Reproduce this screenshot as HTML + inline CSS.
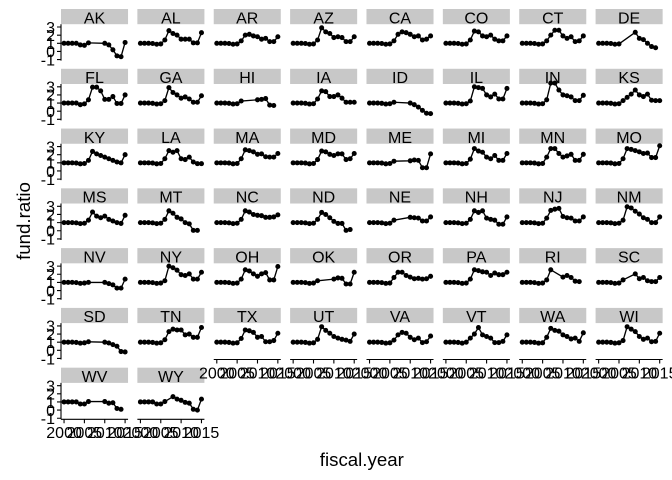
<!DOCTYPE html>
<html><head><meta charset="utf-8"><style>
html,body{margin:0;padding:0;background:#fff}
svg{display:block}
text{font-family:"Liberation Sans",Arial,sans-serif;fill:#000}
.s{fill:#C8C8C8}
.st{font-size:16px;text-anchor:middle}
.l{fill:none;stroke:#000;stroke-width:.33;stroke-linejoin:round;marker-start:url(#m);marker-mid:url(#m);marker-end:url(#m)}
.ax{stroke:#000;stroke-width:1.1;fill:none}
.yl{font-size:16px;text-anchor:end}
.xl{font-size:16px;text-anchor:middle}
.ti{font-size:18.67px;text-anchor:middle}
</style></head><body>
<svg width="672" height="480" viewBox="0 0 672 480" xmlns="http://www.w3.org/2000/svg">
<defs><marker id="m" markerUnits="userSpaceOnUse" markerWidth="2" markerHeight="2" refX="1" refY="1" viewBox="0 0 2 2" overflow="visible"><circle cx="1" cy="1" r=".62" fill="#000"/></marker></defs>
<rect width="672" height="480" fill="#fff"/>

<!-- Row 0 -->
<g transform="translate(61,9)"><rect class="s" width="67.04" height="15.2"/><text class="st" x="33.52" y="14.3">AK</text><path class="l" transform="translate(3.05 42.42) scale(4.07)" d="M0 -2 1 -2 2 -2 3 -2 4 -1.6 5 -1.5 6 -2.1 10 -2 11 -1.6 12 -.4 13 1.1 14 1.3 15 -2.2"/></g>
<g transform="translate(137.37,9)"><rect class="s" width="67.04" height="15.2"/><text class="st" x="33.52" y="14.3">AL</text><path class="l" transform="translate(3.05 42.42) scale(4.07)" d="M0 -2 1 -2 2 -2 3 -1.94 4 -1.76 5 -1.84 6 -2.8 7 -5.1 8 -4.4 9 -4 10 -3 11 -3 12 -3 13 -2.1 14 -2.1 15 -4.6"/></g>
<g transform="translate(213.74,9)"><rect class="s" width="67.04" height="15.2"/><text class="st" x="33.52" y="14.3">AR</text><path class="l" transform="translate(3.05 42.42) scale(4.07)" d="M0 -2 1 -2 2 -2 3 -1.94 4 -1.76 5 -1.84 6 -2.6 7 -4 8 -4.2 9 -3.8 10 -3.6 11 -3 12 -3.2 13 -2.4 14 -2.4 15 -3.6"/></g>
<g transform="translate(290.11,9)"><rect class="s" width="67.04" height="15.2"/><text class="st" x="33.52" y="14.3">AZ</text><path class="l" transform="translate(3.05 42.42) scale(4.07)" d="M0 -2 1 -2 2 -2 3 -1.94 4 -1.76 5 -1.84 6 -2.8 7 -5.8 8 -4.8 9 -4.4 10 -3.4 11 -3.6 12 -3.4 13 -2.4 14 -2.4 15 -3.6"/></g>
<g transform="translate(366.48,9)"><rect class="s" width="67.04" height="15.2"/><text class="st" x="33.52" y="14.3">CA</text><path class="l" transform="translate(3.05 42.42) scale(4.07)" d="M0 -2 1 -2 2 -2 3 -1.94 4 -1.76 5 -1.84 6 -2.6 7 -4.2 8 -4.8 9 -4.6 10 -4.2 11 -3.6 12 -3.8 13 -2.8 14 -3 15 -3.8"/></g>
<g transform="translate(442.85,9)"><rect class="s" width="67.04" height="15.2"/><text class="st" x="33.52" y="14.3">CO</text><path class="l" transform="translate(3.05 42.42) scale(4.07)" d="M0 -2 1 -2 2 -2 3 -1.94 4 -1.76 5 -1.84 6 -2.8 7 -5 8 -4.8 9 -3.8 10 -3.6 11 -4 12 -3 13 -2.6 14 -2.6 15 -3.8"/></g>
<g transform="translate(519.22,9)"><rect class="s" width="67.04" height="15.2"/><text class="st" x="33.52" y="14.3">CT</text><path class="l" transform="translate(3.05 42.42) scale(4.07)" d="M0 -2 1 -2 2 -2 3 -1.94 4 -1.76 5 -1.84 6 -2.6 7 -4 8 -5.2 9 -5.2 10 -3.8 11 -3.2 12 -3.6 13 -2.4 14 -2.6 15 -3.8"/></g>
<g transform="translate(595.59,9)"><rect class="s" width="67.04" height="15.2"/><text class="st" x="33.52" y="14.3">DE</text><path class="l" transform="translate(3.05 42.42) scale(4.07)" d="M0 -2 1 -2 2 -2 3 -1.94 4 -1.76 5 -1.84 9 -4.7 10 -3.2 11 -2.9 12 -2 13 -1.2 14 -.9"/></g>

<!-- Row 1 -->
<g transform="translate(61,68.78)"><rect class="s" width="67.04" height="15.2"/><text class="st" x="33.52" y="14.3">FL</text><path class="l" transform="translate(3.05 42.42) scale(4.07)" d="M0 -2 1 -2 2 -2 3 -2 4 -1.6 5 -1.8 6 -2.8 7 -5.9 8 -5.9 9 -5 10 -2.9 11 -2.9 12 -3.6 13 -1.9 14 -1.9 15 -4"/></g>
<g transform="translate(137.37,68.78)"><rect class="s" width="67.04" height="15.2"/><text class="st" x="33.52" y="14.3">GA</text><path class="l" transform="translate(3.05 42.42) scale(4.07)" d="M0 -2 1 -2 2 -2 3 -1.94 4 -1.76 5 -1.84 6 -2.6 7 -5.8 8 -4.6 9 -4 10 -3.2 11 -3.5 12 -3 13 -2.2 14 -2.2 15 -3.8"/></g>
<g transform="translate(213.74,68.78)"><rect class="s" width="67.04" height="15.2"/><text class="st" x="33.52" y="14.3">HI</text><path class="l" transform="translate(3.05 42.42) scale(4.07)" d="M0 -2 1 -2 2 -2 3 -1.94 4 -1.76 5 -1.84 6 -2.5 10 -2.8 11 -2.9 12 -3.1 13 -1.5 14 -1.4"/></g>
<g transform="translate(290.11,68.78)"><rect class="s" width="67.04" height="15.2"/><text class="st" x="33.52" y="14.3">IA</text><path class="l" transform="translate(3.05 42.42) scale(4.07)" d="M0 -2 1 -2 2 -2 3 -1.94 4 -1.76 5 -1.84 6 -3 7 -5 8 -4.8 9 -3.6 10 -3.6 11 -4 12 -3.2 13 -2.2 14 -2.2 15 -2.2"/></g>
<g transform="translate(366.48,68.78)"><rect class="s" width="67.04" height="15.2"/><text class="st" x="33.52" y="14.3">ID</text><path class="l" transform="translate(3.05 42.42) scale(4.07)" d="M0 -2 1 -2 2 -2 3 -1.94 4 -1.76 5 -1.84 6 -2.2 10 -2 11 -1.6 12 -1 13 -.2 14 .5 15 .6"/></g>
<g transform="translate(442.85,68.78)"><rect class="s" width="67.04" height="15.2"/><text class="st" x="33.52" y="14.3">IL</text><path class="l" transform="translate(3.05 42.42) scale(4.07)" d="M0 -2 1 -2 2 -2 3 -1.94 4 -1.76 5 -1.84 6 -2.5 7 -6 8 -5.8 9 -5.6 10 -4 11 -3.5 12 -4.2 13 -3 14 -3 15 -5.6"/></g>
<g transform="translate(519.22,68.78)"><rect class="s" width="67.04" height="15.2"/><text class="st" x="33.52" y="14.3">IN</text><path class="l" transform="translate(3.05 42.42) scale(4.07)" d="M0 -2 1 -2 2 -2 3 -1.94 4 -1.76 5 -1.84 6 -2.8 7 -6.9 8 -6.9 9 -5.2 10 -4 11 -3.8 12 -3.5 13 -2.6 14 -2.6 15 -3.9"/></g>
<g transform="translate(595.59,68.78)"><rect class="s" width="67.04" height="15.2"/><text class="st" x="33.52" y="14.3">KS</text><path class="l" transform="translate(3.05 42.42) scale(4.07)" d="M0 -2 1 -2 2 -2 3 -1.94 4 -1.76 5 -1.84 6 -2.6 7 -3.4 8 -4.2 9 -5.2 10 -4 11 -3.6 12 -4.2 13 -2.7 14 -2.6 15 -2.6"/></g>

<!-- Row 2 -->
<g transform="translate(61,128.56)"><rect class="s" width="67.04" height="15.2"/><text class="st" x="33.52" y="14.3">KY</text><path class="l" transform="translate(3.05 42.42) scale(4.07)" d="M0 -2 1 -2 2 -2 3 -1.94 4 -1.76 5 -1.84 6 -2.6 7 -4.8 8 -4.2 9 -3.8 10 -3.4 11 -3 12 -2.6 13 -2.2 14 -2 15 -4"/></g>
<g transform="translate(137.37,128.56)"><rect class="s" width="67.04" height="15.2"/><text class="st" x="33.52" y="14.3">LA</text><path class="l" transform="translate(3.05 42.42) scale(4.07)" d="M0 -2 1 -2 2 -2 3 -1.94 4 -1.76 5 -1.84 6 -3 7 -5 8 -4.6 9 -5 10 -3 11 -2.8 12 -3.4 13 -2.2 14 -1.8 15 -1.8"/></g>
<g transform="translate(213.74,128.56)"><rect class="s" width="67.04" height="15.2"/><text class="st" x="33.52" y="14.3">MA</text><path class="l" transform="translate(3.05 42.42) scale(4.07)" d="M0 -2 1 -2 2 -2 3 -1.94 4 -1.76 5 -1.84 6 -3 7 -5.2 8 -5 9 -4.7 10 -4.1 11 -4.2 12 -3.5 13 -3.4 14 -3.4 15 -4.3"/></g>
<g transform="translate(290.11,128.56)"><rect class="s" width="67.04" height="15.2"/><text class="st" x="33.52" y="14.3">MD</text><path class="l" transform="translate(3.05 42.42) scale(4.07)" d="M0 -2 1 -2 2 -2 3 -1.94 4 -1.76 5 -1.84 6 -2.8 7 -4.9 8 -4.7 9 -4.1 10 -3.8 11 -4.2 12 -4.2 13 -2.8 14 -3 15 -4.3"/></g>
<g transform="translate(366.48,128.56)"><rect class="s" width="67.04" height="15.2"/><text class="st" x="33.52" y="14.3">ME</text><path class="l" transform="translate(3.05 42.42) scale(4.07)" d="M0 -2 1 -2 2 -2 3 -1.94 4 -1.76 5 -1.84 6 -2.4 10 -2.5 11 -2.7 12 -2.6 13 -.8 14 -.8 15 -4.2"/></g>
<g transform="translate(442.85,128.56)"><rect class="s" width="67.04" height="15.2"/><text class="st" x="33.52" y="14.3">MI</text><path class="l" transform="translate(3.05 42.42) scale(4.07)" d="M0 -2 1 -2 2 -2 3 -1.94 4 -1.76 5 -1.84 6 -2.9 7 -5.5 8 -4.9 9 -4.6 10 -3.4 11 -3 12 -3.8 13 -2.6 14 -2.6 15 -4.3"/></g>
<g transform="translate(519.22,128.56)"><rect class="s" width="67.04" height="15.2"/><text class="st" x="33.52" y="14.3">MN</text><path class="l" transform="translate(3.05 42.42) scale(4.07)" d="M0 -2 1 -2 2 -2 3 -1.94 4 -1.76 5 -1.84 6 -3.4 7 -5.5 8 -5.5 9 -4.3 10 -3.4 11 -3.7 12 -4.1 13 -2.6 14 -2.6 15 -4.1"/></g>
<g transform="translate(595.59,128.56)"><rect class="s" width="67.04" height="15.2"/><text class="st" x="33.52" y="14.3">MO</text><path class="l" transform="translate(3.05 42.42) scale(4.07)" d="M0 -2 1 -2 2 -2 3 -1.94 4 -1.76 5 -1.84 6 -3 7 -5.5 8 -5.3 9 -5 10 -4.7 11 -4.3 12 -4.4 13 -3.3 14 -3.3 15 -6.2"/></g>

<!-- Row 3 -->
<g transform="translate(61,188.34)"><rect class="s" width="67.04" height="15.2"/><text class="st" x="33.52" y="14.3">MS</text><path class="l" transform="translate(3.05 42.42) scale(4.07)" d="M0 -2 1 -2 2 -2 3 -1.94 4 -1.76 5 -1.84 6 -2.6 7 -4.6 8 -3.6 9 -3.2 10 -3.6 11 -2.8 12 -2.4 13 -2 14 -1.8 15 -3.8"/></g>
<g transform="translate(137.37,188.34)"><rect class="s" width="67.04" height="15.2"/><text class="st" x="33.52" y="14.3">MT</text><path class="l" transform="translate(3.05 42.42) scale(4.07)" d="M0 -2 1 -2 2 -2 3 -1.94 4 -1.76 5 -1.84 6 -2.8 7 -4.9 8 -4.3 9 -3.3 10 -2.9 11 -2 12 -1.7 13 -.1 14 -.1"/></g>
<g transform="translate(213.74,188.34)"><rect class="s" width="67.04" height="15.2"/><text class="st" x="33.52" y="14.3">NC</text><path class="l" transform="translate(3.05 42.42) scale(4.07)" d="M0 -2 1 -2 2 -2 3 -1.94 4 -1.76 5 -1.84 6 -2.8 7 -4.9 8 -4.6 9 -4 10 -3.8 11 -3.7 12 -3.3 13 -3.3 14 -3.4 15 -3.9"/></g>
<g transform="translate(290.11,188.34)"><rect class="s" width="67.04" height="15.2"/><text class="st" x="33.52" y="14.3">ND</text><path class="l" transform="translate(3.05 42.42) scale(4.07)" d="M0 -2 1 -2 2 -2 3 -1.94 4 -1.76 5 -1.84 6 -2.8 7 -4.5 8 -4 9 -3.2 10 -2.3 11 -1.8 12 -1.8 13 -.1 14 -.3"/></g>
<g transform="translate(366.48,188.34)"><rect class="s" width="67.04" height="15.2"/><text class="st" x="33.52" y="14.3">NE</text><path class="l" transform="translate(3.05 42.42) scale(4.07)" d="M0 -2 1 -2 2 -2 3 -1.94 4 -1.76 5 -1.84 6 -2.6 10 -3.3 11 -3.2 12 -3.1 13 -2.4 14 -2.4 15 -3.4"/></g>
<g transform="translate(442.85,188.34)"><rect class="s" width="67.04" height="15.2"/><text class="st" x="33.52" y="14.3">NH</text><path class="l" transform="translate(3.05 42.42) scale(4.07)" d="M0 -2 1 -2 2 -2 3 -1.94 4 -1.76 5 -1.84 6 -2.8 7 -4.9 8 -4.5 9 -4.9 10 -3.1 11 -2.8 12 -2.6 13 -1.6 14 -1.6 15 -3.4"/></g>
<g transform="translate(519.22,188.34)"><rect class="s" width="67.04" height="15.2"/><text class="st" x="33.52" y="14.3">NJ</text><path class="l" transform="translate(3.05 42.42) scale(4.07)" d="M0 -2 1 -2 2 -2 3 -1.94 4 -1.76 5 -1.84 6 -3.1 7 -5 8 -5.3 9 -5.5 10 -3.5 11 -3.2 12 -3.1 13 -2.4 14 -2.4 15 -3.4"/></g>
<g transform="translate(595.59,188.34)"><rect class="s" width="67.04" height="15.2"/><text class="st" x="33.52" y="14.3">NM</text><path class="l" transform="translate(3.05 42.42) scale(4.07)" d="M0 -2 1 -2 2 -2 3 -1.94 4 -1.76 5 -1.84 6 -2.6 7 -5.9 8 -5.6 9 -4.8 10 -4.1 11 -3.2 12 -2.8 13 -2 14 -2 15 -3.4"/></g>

<!-- Row 4 -->
<g transform="translate(61,248.12)"><rect class="s" width="67.04" height="15.2"/><text class="st" x="33.52" y="14.3">NV</text><path class="l" transform="translate(3.05 42.42) scale(4.07)" d="M0 -2 1 -2 2 -2 3 -1.94 4 -1.76 5 -1.84 6 -2 10 -2 11 -1.7 12 -1.4 13 -.6 14 -.6 15 -2.8"/></g>
<g transform="translate(137.37,248.12)"><rect class="s" width="67.04" height="15.2"/><text class="st" x="33.52" y="14.3">NY</text><path class="l" transform="translate(3.05 42.42) scale(4.07)" d="M0 -2 1 -2 2 -2 3 -1.94 4 -1.76 5 -1.84 6 -2.4 7 -6 8 -5.6 9 -5 10 -3.9 11 -3.7 12 -4.1 13 -2.8 14 -2.8 15 -4.5"/></g>
<g transform="translate(213.74,248.12)"><rect class="s" width="67.04" height="15.2"/><text class="st" x="33.52" y="14.3">OH</text><path class="l" transform="translate(3.05 42.42) scale(4.07)" d="M0 -2 1 -2 2 -2 3 -1.94 4 -1.76 5 -1.84 6 -2.8 7 -5.1 8 -4.8 9 -4.1 10 -3.5 11 -4.1 12 -4.4 13 -2.6 14 -2.6 15 -5.9"/></g>
<g transform="translate(290.11,248.12)"><rect class="s" width="67.04" height="15.2"/><text class="st" x="33.52" y="14.3">OK</text><path class="l" transform="translate(3.05 42.42) scale(4.07)" d="M0 -2 1 -2 2 -2 3 -1.94 4 -1.76 5 -1.84 6 -2.4 10 -2.8 11 -3.1 12 -3 13 -1.6 14 -1.6 15 -4.5"/></g>
<g transform="translate(366.48,248.12)"><rect class="s" width="67.04" height="15.2"/><text class="st" x="33.52" y="14.3">OR</text><path class="l" transform="translate(3.05 42.42) scale(4.07)" d="M0 -2 1 -2 2 -2 3 -1.94 4 -1.76 5 -1.84 6 -3.2 7 -4.5 8 -4.5 9 -3.7 10 -3.3 11 -2.9 12 -3 13 -2.8 14 -2.9 15 -3.5"/></g>
<g transform="translate(442.85,248.12)"><rect class="s" width="67.04" height="15.2"/><text class="st" x="33.52" y="14.3">PA</text><path class="l" transform="translate(3.05 42.42) scale(4.07)" d="M0 -2 1 -2 2 -2 3 -1.94 4 -1.76 5 -1.84 6 -2.8 7 -5.1 8 -4.9 9 -4.6 10 -4.5 11 -3.7 12 -4.3 13 -3.9 14 -3.9 15 -4.5"/></g>
<g transform="translate(519.22,248.12)"><rect class="s" width="67.04" height="15.2"/><text class="st" x="33.52" y="14.3">RI</text><path class="l" transform="translate(3.05 42.42) scale(4.07)" d="M0 -2 1 -2 2 -2 3 -1.94 4 -1.76 5 -1.84 6 -2.6 7 -5.1 10 -3.3 11 -3.7 12 -3.2 13 -2.3 14 -2.2"/></g>
<g transform="translate(595.59,248.12)"><rect class="s" width="67.04" height="15.2"/><text class="st" x="33.52" y="14.3">SC</text><path class="l" transform="translate(3.05 42.42) scale(4.07)" d="M0 -2 1 -2 2 -2 3 -1.94 4 -1.76 5 -1.84 6 -2.6 9 -4.1 10 -2.9 11 -3.2 12 -2.4 13 -2.2 14 -2.2 15 -3.2"/></g>

<!-- Row 5 -->
<g transform="translate(61,307.9)"><rect class="s" width="67.04" height="15.2"/><text class="st" x="33.52" y="14.3">SD</text><path class="l" transform="translate(3.05 42.42) scale(4.07)" d="M0 -2 1 -2 2 -2 3 -1.94 4 -1.76 5 -1.84 6 -2.1 10 -2 11 -1.8 12 -1.4 13 -1 14 .3 15 .4"/></g>
<g transform="translate(137.37,307.9)"><rect class="s" width="67.04" height="15.2"/><text class="st" x="33.52" y="14.3">TN</text><path class="l" transform="translate(3.05 42.42) scale(4.07)" d="M0 -2 1 -2 2 -2 3 -1.94 4 -1.76 5 -1.84 6 -2.6 7 -4.6 8 -5.2 9 -5 10 -5 11 -3.8 12 -4 13 -3.2 14 -3.2 15 -5.6"/></g>
<g transform="translate(213.74,307.9)"><rect class="s" width="67.04" height="15.2"/><text class="st" x="33.52" y="14.3">TX</text><path class="l" transform="translate(3.05 42.42) scale(4.07)" d="M0 -2 1 -2 2 -2 3 -1.94 4 -1.76 5 -1.84 6 -2.9 7 -5 8 -4.8 9 -4.4 10 -3.2 11 -3.4 12 -2.1 13 -2.1 14 -2.4 15 -4.2"/></g>
<g transform="translate(290.11,307.9)"><rect class="s" width="67.04" height="15.2"/><text class="st" x="33.52" y="14.3">UT</text><path class="l" transform="translate(3.05 42.42) scale(4.07)" d="M0 -2 1 -2 2 -2 3 -1.94 4 -1.76 5 -1.84 6 -2.7 7 -5.8 8 -4.9 9 -4.2 10 -3.4 11 -3 12 -2.7 13 -2.5 14 -2.2 15 -4"/></g>
<g transform="translate(366.48,307.9)"><rect class="s" width="67.04" height="15.2"/><text class="st" x="33.52" y="14.3">VA</text><path class="l" transform="translate(3.05 42.42) scale(4.07)" d="M0 -2 1 -2 2 -2 3 -1.94 4 -1.76 5 -1.84 6 -2.5 7 -3.8 8 -4.4 9 -4.2 10 -3.2 11 -2.6 12 -3 13 -1.9 14 -2.1 15 -3.5"/></g>
<g transform="translate(442.85,307.9)"><rect class="s" width="67.04" height="15.2"/><text class="st" x="33.52" y="14.3">VT</text><path class="l" transform="translate(3.05 42.42) scale(4.07)" d="M0 -2 1 -2 2 -2 3 -1.94 4 -1.76 5 -2 6 -3 7 -4 8 -5.6 9 -3.8 10 -3.4 11 -3 12 -1.9 13 -1.9 14 -2.2 15 -3.8"/></g>
<g transform="translate(519.22,307.9)"><rect class="s" width="67.04" height="15.2"/><text class="st" x="33.52" y="14.3">WA</text><path class="l" transform="translate(3.05 42.42) scale(4.07)" d="M0 -2 1 -2 2 -2 3 -1.94 4 -1.76 5 -1.84 6 -3.2 7 -5.4 8 -4.9 9 -4.7 10 -3.8 11 -3.4 12 -2.8 13 -3 14 -2.2 15 -4.3"/></g>
<g transform="translate(595.59,307.9)"><rect class="s" width="67.04" height="15.2"/><text class="st" x="33.52" y="14.3">WI</text><path class="l" transform="translate(3.05 42.42) scale(4.07)" d="M0 -2 1 -2 2 -2 3 -1.94 4 -1.76 5 -1.84 6 -2.4 7 -5.8 8 -5.2 9 -4.6 10 -3.4 11 -2.7 12 -3 13 -2.1 14 -2.2 15 -4.2"/></g>

<!-- Row 6 -->
<g transform="translate(61,367.68)"><rect class="s" width="67.04" height="15.2"/><text class="st" x="33.52" y="14.3">WV</text><path class="l" transform="translate(3.05 42.42) scale(4.07)" d="M0 -2 1 -2 2 -2 3 -2 4 -1.5 5 -1.5 6 -2.1 10 -2.1 11 -1.7 12 -1.8 13 -.4 14 -.2"/></g>
<g transform="translate(137.37,367.68)"><rect class="s" width="67.04" height="15.2"/><text class="st" x="33.52" y="14.3">WY</text><path class="l" transform="translate(3.05 42.42) scale(4.07)" d="M0 -2 1 -2 2 -2 3 -2 4 -1.5 5 -1.5 6 -2.1 8 -3.3 9 -2.7 10 -2.4 11 -1.9 12 -1.7 13 -.2 14 0 15 -2.7"/></g>

<!-- Y axes -->
<g transform="translate(61,9)"><path class="ax" d="M0 15.2V51.6M-4 18H0M-4 26.14H0M-4 34.28H0M-4 42.42H0M-4 50.56H0"/><text class="yl" x="-6" y="23.8">3</text><text class="yl" x="-6" y="31.94">2</text><text class="yl" x="-6" y="40.08">1</text><text class="yl" x="-6" y="48.22">0</text><text class="yl" x="-6" y="56.36">-1</text></g>
<g transform="translate(61,68.78)"><path class="ax" d="M0 15.2V51.6M-4 18H0M-4 26.14H0M-4 34.28H0M-4 42.42H0M-4 50.56H0"/><text class="yl" x="-6" y="23.8">3</text><text class="yl" x="-6" y="31.94">2</text><text class="yl" x="-6" y="40.08">1</text><text class="yl" x="-6" y="48.22">0</text><text class="yl" x="-6" y="56.36">-1</text></g>
<g transform="translate(61,128.56)"><path class="ax" d="M0 15.2V51.6M-4 18H0M-4 26.14H0M-4 34.28H0M-4 42.42H0M-4 50.56H0"/><text class="yl" x="-6" y="23.8">3</text><text class="yl" x="-6" y="31.94">2</text><text class="yl" x="-6" y="40.08">1</text><text class="yl" x="-6" y="48.22">0</text><text class="yl" x="-6" y="56.36">-1</text></g>
<g transform="translate(61,188.34)"><path class="ax" d="M0 15.2V51.6M-4 18H0M-4 26.14H0M-4 34.28H0M-4 42.42H0M-4 50.56H0"/><text class="yl" x="-6" y="23.8">3</text><text class="yl" x="-6" y="31.94">2</text><text class="yl" x="-6" y="40.08">1</text><text class="yl" x="-6" y="48.22">0</text><text class="yl" x="-6" y="56.36">-1</text></g>
<g transform="translate(61,248.12)"><path class="ax" d="M0 15.2V51.6M-4 18H0M-4 26.14H0M-4 34.28H0M-4 42.42H0M-4 50.56H0"/><text class="yl" x="-6" y="23.8">3</text><text class="yl" x="-6" y="31.94">2</text><text class="yl" x="-6" y="40.08">1</text><text class="yl" x="-6" y="48.22">0</text><text class="yl" x="-6" y="56.36">-1</text></g>
<g transform="translate(61,307.9)"><path class="ax" d="M0 15.2V51.6M-4 18H0M-4 26.14H0M-4 34.28H0M-4 42.42H0M-4 50.56H0"/><text class="yl" x="-6" y="23.8">3</text><text class="yl" x="-6" y="31.94">2</text><text class="yl" x="-6" y="40.08">1</text><text class="yl" x="-6" y="48.22">0</text><text class="yl" x="-6" y="56.36">-1</text></g>
<g transform="translate(61,367.68)"><path class="ax" d="M0 15.2V51.6M-4 18H0M-4 26.14H0M-4 34.28H0M-4 42.42H0M-4 50.56H0"/><text class="yl" x="-6" y="23.8">3</text><text class="yl" x="-6" y="31.94">2</text><text class="yl" x="-6" y="40.08">1</text><text class="yl" x="-6" y="48.22">0</text><text class="yl" x="-6" y="56.36">-1</text></g>

<!-- X axes: row 5 cols 2-7 -->
<g transform="translate(213.74,307.9)"><path class="ax" d="M0 51.6H67.04M3.05 51.6V55.6M23.4 51.6V55.6M43.75 51.6V55.6M64.1 51.6V55.6"/><text class="xl" x="3.05" y="70.4">2000</text><text class="xl" x="23.4" y="70.4">2005</text><text class="xl" x="43.75" y="70.4">2010</text><text class="xl" x="64.1" y="70.4">2015</text></g>
<g transform="translate(290.11,307.9)"><path class="ax" d="M0 51.6H67.04M3.05 51.6V55.6M23.4 51.6V55.6M43.75 51.6V55.6M64.1 51.6V55.6"/><text class="xl" x="3.05" y="70.4">2000</text><text class="xl" x="23.4" y="70.4">2005</text><text class="xl" x="43.75" y="70.4">2010</text><text class="xl" x="64.1" y="70.4">2015</text></g>
<g transform="translate(366.48,307.9)"><path class="ax" d="M0 51.6H67.04M3.05 51.6V55.6M23.4 51.6V55.6M43.75 51.6V55.6M64.1 51.6V55.6"/><text class="xl" x="3.05" y="70.4">2000</text><text class="xl" x="23.4" y="70.4">2005</text><text class="xl" x="43.75" y="70.4">2010</text><text class="xl" x="64.1" y="70.4">2015</text></g>
<g transform="translate(442.85,307.9)"><path class="ax" d="M0 51.6H67.04M3.05 51.6V55.6M23.4 51.6V55.6M43.75 51.6V55.6M64.1 51.6V55.6"/><text class="xl" x="3.05" y="70.4">2000</text><text class="xl" x="23.4" y="70.4">2005</text><text class="xl" x="43.75" y="70.4">2010</text><text class="xl" x="64.1" y="70.4">2015</text></g>
<g transform="translate(519.22,307.9)"><path class="ax" d="M0 51.6H67.04M3.05 51.6V55.6M23.4 51.6V55.6M43.75 51.6V55.6M64.1 51.6V55.6"/><text class="xl" x="3.05" y="70.4">2000</text><text class="xl" x="23.4" y="70.4">2005</text><text class="xl" x="43.75" y="70.4">2010</text><text class="xl" x="64.1" y="70.4">2015</text></g>
<g transform="translate(595.59,307.9)"><path class="ax" d="M0 51.6H67.04M3.05 51.6V55.6M23.4 51.6V55.6M43.75 51.6V55.6M64.1 51.6V55.6"/><text class="xl" x="3.05" y="70.4">2000</text><text class="xl" x="23.4" y="70.4">2005</text><text class="xl" x="43.75" y="70.4">2010</text><text class="xl" x="64.1" y="70.4">2015</text></g>
<!-- X axes: row 6 cols 0-1 -->
<g transform="translate(61,367.68)"><path class="ax" d="M0 51.6H67.04M3.05 51.6V55.6M23.4 51.6V55.6M43.75 51.6V55.6M64.1 51.6V55.6"/><text class="xl" x="3.05" y="70.4">2000</text><text class="xl" x="23.4" y="70.4">2005</text><text class="xl" x="43.75" y="70.4">2010</text><text class="xl" x="64.1" y="70.4">2015</text></g>
<g transform="translate(137.37,367.68)"><path class="ax" d="M0 51.6H67.04M3.05 51.6V55.6M23.4 51.6V55.6M43.75 51.6V55.6M64.1 51.6V55.6"/><text class="xl" x="3.05" y="70.4">2000</text><text class="xl" x="23.4" y="70.4">2005</text><text class="xl" x="43.75" y="70.4">2010</text><text class="xl" x="64.1" y="70.4">2015</text></g>

<!-- Titles -->
<text class="ti" x="361.8" y="466">fiscal.year</text>
<text class="ti" transform="translate(30,221) rotate(-90)">fund.ratio</text>
</svg>
</body></html>
